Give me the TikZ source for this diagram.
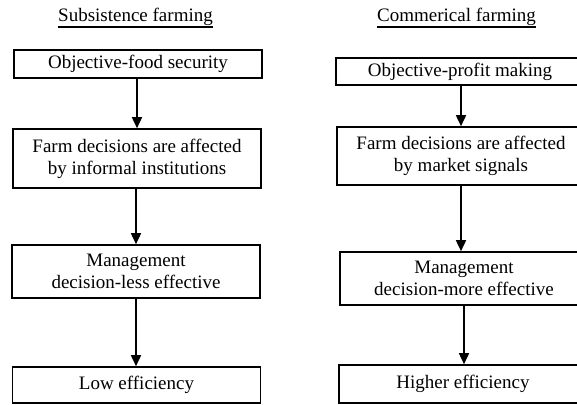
\documentclass[tikz,border=0pt]{standalone}
\usepackage{fontspec}
\setmainfont{Liberation Serif}
\usetikzlibrary{arrows.meta}
\begin{document}
\begin{tikzpicture}[x=1pt,y=-1pt,
  box/.style={draw,line width=1.6pt,minimum width=248pt,inner sep=0pt,align=center,
    font=\fontsize{19}{22}\selectfont},
  ttl/.style={inner sep=0pt,anchor=base,font=\fontsize{19}{22}\selectfont},
  arr/.style={line width=1.6pt,-{Triangle[width=10pt,length=11pt]}},
  uline/.style={line width=1.5pt}]
\useasboundingbox (0,0) rectangle (577,404);
\clip (0,0) rectangle (577,404);
% titles
\node[ttl] (t1) at (135.5,22) {Subsistence farming};
\node[ttl] (t2) at (456.5,22) {Commerical farming};
\draw[uline] ([yshift=-5pt]t1.base west) -- ([yshift=-5pt]t1.base east);
\draw[uline] ([yshift=-5pt]t2.base west) -- ([yshift=-5pt]t2.base east);
% left column
\node[box,minimum height=28pt] (L1) at (138,64) {Objective-food security};
\node[box,minimum height=59pt] (L2) at (137,158.5) {Farm decisions are affected\\by informal institutions};
\node[box,minimum height=53pt] (L3) at (136,271.5) {Management\\decision-less effective};
\node[box,minimum height=36pt] (L4) at (136.5,385) {Low efficiency};
% right column
\node[box,minimum height=27pt] (R1) at (460,71.5) {Objective-profit making};
\node[box,minimum height=58pt] (R2) at (461,156) {Farm decisions are affected\\by market signals};
\node[box,minimum height=53pt] (R3) at (464,278.5) {Management\\decision-more effective};
\node[box,minimum height=38pt] (R4) at (463,384) {Higher efficiency};
% arrows
\draw[arr] (L1.south -| L2.north) -- (L2.north);
\draw[arr] (L2.south -| L3.north) -- (L3.north);
\draw[arr] (L3.south) -- (L3.south |- L4.north);
\draw[arr] (R1.south -| R2.north) -- (R2.north);
\draw[arr] (R2.south) -- (R2.south |- R3.north);
\draw[arr] (R3.south) -- (R3.south |- R4.north);
\end{tikzpicture}
\end{document}
